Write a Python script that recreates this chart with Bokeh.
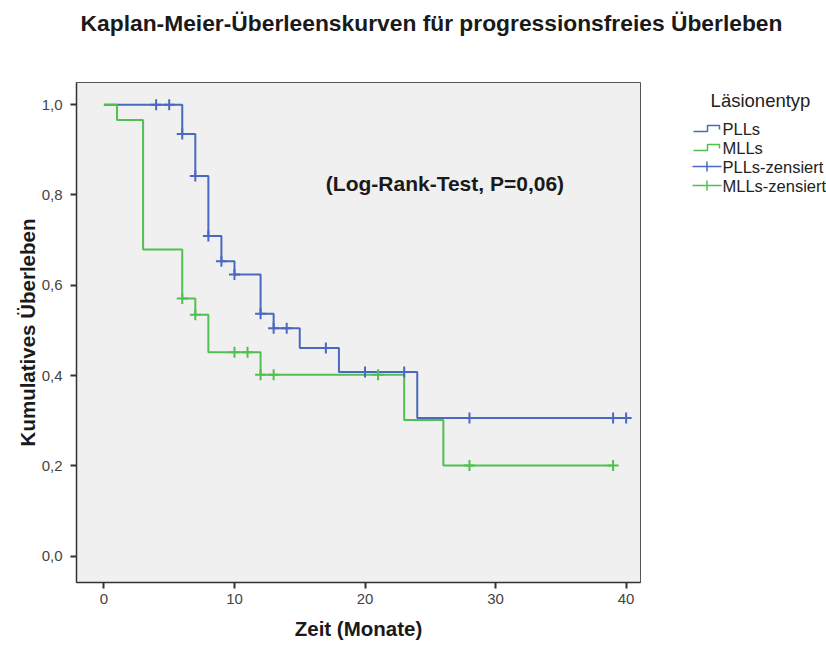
from bokeh.plotting import figure
from bokeh.layouts import column, row
from bokeh.models import Range1d, FixedTicker, CustomJSTickFormatter, Label
from bokeh.embed import file_html
from bokeh.resources import INLINE

# ---- data ----
pll_time = [0, 6, 7, 8, 9, 10, 12, 13, 15, 18, 24, 40]
pll_surv = [1.0, 0.935, 0.842, 0.709, 0.653, 0.624, 0.537, 0.505, 0.461, 0.408, 0.306, 0.306]
pll_cens_time = [4, 5, 6, 7, 8, 9, 10, 12, 13, 14, 17, 20, 23, 28, 39, 40]
pll_cens_surv = [1.0, 1.0, 0.935, 0.842, 0.709, 0.653, 0.624, 0.537, 0.505, 0.505, 0.461, 0.408, 0.408, 0.306, 0.306, 0.306]

mll_time = [0, 1, 3, 6, 7, 8, 12, 23, 26, 39]
mll_surv = [1.0, 0.966, 0.679, 0.571, 0.535, 0.452, 0.402, 0.302, 0.201, 0.201]
mll_cens_time = [6, 7, 10, 11, 12, 13, 21, 28, 39]
mll_cens_surv = [0.571, 0.535, 0.452, 0.452, 0.402, 0.402, 0.402, 0.201, 0.201]

x_ticks = [0, 10, 20, 30, 40]
y_ticks = [0.0, 0.2, 0.4, 0.6, 0.8, 1.0]

title_text = "Kaplan-Meier-Überleenskurven für progressionsfreies Überleben"
note_text = "(Log-Rank-Test, P=0,06)"
legend_title = "Läsionentyp"
legend_labels = ["PLLs", "MLLs", "PLLs-zensiert", "MLLs-zensiert"]

BLUE = "#4a68c0"
GREEN = "#50c050"
FONT = "Liberation Sans"

TOTAL_W, TOTAL_H = 826, 647
TITLE_H = 55
MAIN_W = 660
BORDER_TOP, BORDER_BOTTOM = 27, 65
FRAME_TOP = TITLE_H + BORDER_TOP
FRAME_BOTTOM = TOTAL_H - BORDER_BOTTOM

# ---- title strip ----
tfig = figure(width=TOTAL_W, height=TITLE_H, x_range=Range1d(0, TOTAL_W), y_range=Range1d(TITLE_H, 0),
              output_backend="svg", toolbar_location=None, min_border=0)
tfig.axis.visible = False
tfig.grid.visible = False
tfig.outline_line_color = None
tfig.add_layout(Label(x=431, y=22, text=title_text, text_align="center", text_baseline="middle",
                      text_font=FONT, text_font_style="bold", text_font_size="22.8px", text_color="#1a1a1a"))

# ---- main plot ----
p = figure(width=MAIN_W, height=TOTAL_H - TITLE_H, x_range=Range1d(-2.1, 41.1), y_range=Range1d(-0.058, 1.049),
           output_backend="svg", toolbar_location=None,
           min_border_left=76, min_border_right=MAIN_W - 640, min_border_top=BORDER_TOP,
           min_border_bottom=BORDER_BOTTOM)
p.background_fill_color = "#f0f0f0"
p.border_fill_color = "white"
p.outline_line_color = "#555555"
p.grid.visible = False

p.step(pll_time, pll_surv, mode="after", line_color=BLUE, line_width=2)
p.step(mll_time, mll_surv, mode="after", line_color=GREEN, line_width=2)
p.scatter(pll_cens_time, pll_cens_surv, marker="cross", size=11, line_color=BLUE, line_width=2)
p.scatter(mll_cens_time, mll_cens_surv, marker="cross", size=11, line_color=GREEN, line_width=2)

p.add_layout(Label(x=17.0, y=0.825, text=note_text, text_align="left", text_baseline="middle",
                   text_font=FONT, text_font_style="bold", text_font_size="21px", text_color="#1a1a1a"))

p.xaxis.ticker = FixedTicker(ticks=x_ticks)
p.yaxis.ticker = FixedTicker(ticks=y_ticks)
p.yaxis.formatter = CustomJSTickFormatter(code="return tick.toFixed(1).replace('.', ',');")
for ax in (p.xaxis, p.yaxis):
    ax.minor_tick_line_color = None
    ax.major_tick_out = 6
    ax.major_tick_in = 0
    ax.major_tick_line_color = "#333333"
    ax.major_tick_line_width = 2
    ax.axis_line_color = "#333333"
    ax.axis_line_width = 1.5
    ax.major_label_text_font = FONT
    ax.major_label_text_font_size = "15px"
    ax.major_label_text_color = "#444444"
    ax.axis_label_text_font = FONT
    ax.axis_label_text_font_style = "bold"
    ax.axis_label_text_font_size = "20.5px"
    ax.axis_label_text_color = "#1a1a1a"
p.xaxis.axis_label = "Zeit (Monate)"
p.yaxis.axis_label = "Kumulatives Überleben"
p.xaxis.major_label_standoff = 5
p.xaxis.axis_label_standoff = 10
p.yaxis.major_label_standoff = 8
p.yaxis.axis_label_standoff = 0

# ---- legend strip (coordinates = page pixels; its frame is aligned with the main frame) ----
lg = figure(width=TOTAL_W - MAIN_W, height=TOTAL_H - TITLE_H, x_range=Range1d(MAIN_W, TOTAL_W),
            y_range=Range1d(FRAME_BOTTOM, FRAME_TOP), output_backend="svg", toolbar_location=None,
            min_border=0, min_border_top=BORDER_TOP, min_border_bottom=BORDER_BOTTOM)
lg.axis.visible = False
lg.grid.visible = False
lg.outline_line_color = None
lg.background_fill_color = "white"
lg.border_fill_color = "white"

lg.add_layout(Label(x=760, y=100, text=legend_title, text_align="center", text_baseline="middle",
                    text_font=FONT, text_font_size="18.5px", text_color="#222222"))
rows = [128, 147, 166, 185]
colors = [BLUE, GREEN, BLUE, GREEN]
for i, (lab, col, yy) in enumerate(zip(legend_labels, colors, rows)):
    if i < 2:
        lg.line([693, 707, 707, 719, 719], [yy + 3, yy + 3, yy - 3, yy - 3, yy + 1], line_color=col, line_width=1.5)
    else:
        lg.line([692, 721], [yy, yy], line_color=col, line_width=1.5)
        lg.line([706.5, 706.5], [yy - 5, yy + 5], line_color=col, line_width=1.5)
    lg.add_layout(Label(x=722, y=yy, text=lab, text_align="left", text_baseline="middle",
                        text_font=FONT, text_font_size="16.5px", text_color="#222222"))

layout = column(tfig, row(p, lg, spacing=0), spacing=0)
open("out.html", "w").write(file_html(layout, INLINE))
